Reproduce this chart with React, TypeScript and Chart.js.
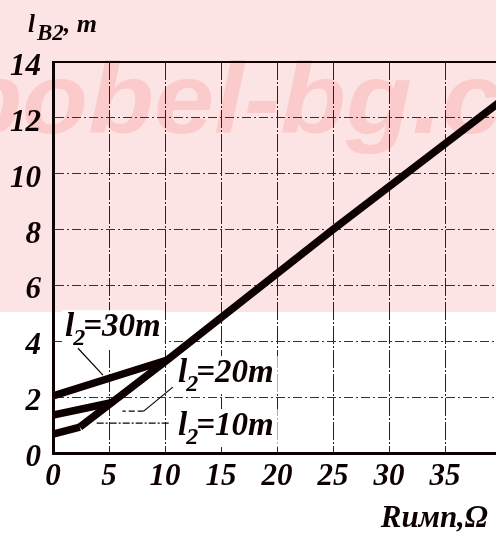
import React, { useEffect, useRef } from "react";
import { Chart, registerables } from "chart.js";
Chart.register(...registerables);

// ---- data ----
const xTickValues = [0, 5, 10, 15, 20, 25, 30, 35, 40];
const yTickValues = [0, 2, 4, 6, 8, 10, 12, 14];

const mainX = [2.4, 10.2, 25, 40];
const mainY = [0.93, 3.33, 8.0, 12.6];
const l10X = [0, 2.4];
const l10Y = [0.68, 0.93];
const l20X = [0, 5.2];
const l20Y = [1.36, 1.8];
const l30X = [0, 10.2];
const l30Y = [2.04, 3.33];

const leader30X = [2.23, 4.46];
const leader30Y = [3.75, 2.79];
const leader20X = [10.7, 8.1, 6.2];
const leader20Y = [2.36, 1.5, 1.5];
const leader10X = [3.9, 10.4];
const leader10Y = [1.07, 1.07];

const curveLabelNames = ["30m", "20m", "10m"];
const curveLabelX = [1.07, 11.16, 11.16];
const curveLabelY = [4.18, 2.54, 0.64];

const yTitleMain = "l";
const yTitleSub = "B2";
const yTitleTail = ", m";
const xTitle = "Rимп,Ω";
const watermark = "bobel-bg.com";

const pts = (xs: number[], ys: number[]) => xs.map((x, i) => ({ x, y: ys[i] }));

const SERIF = "'Liberation Serif', 'DejaVu Serif', serif";
const INK = "#0c0000";

export default function App() {
  const ref = useRef<HTMLCanvasElement | null>(null);

  useEffect(() => {
    if (!ref.current) return;

    const decor = {
      id: "decor",
      beforeDraw(chart: any) {
        const { ctx, width } = chart;
        ctx.save();
        ctx.fillStyle = "#ffffff";
        ctx.fillRect(0, 0, width, chart.height);
        ctx.fillStyle = "#fde4e4";
        ctx.fillRect(0, 0, width, 312);
        ctx.fillStyle = "#fbcaca";
        ctx.font = "italic bold 100px 'Liberation Sans', Arial, sans-serif";
        ctx.textBaseline = "alphabetic";
        ctx.textAlign = "left";
        ctx.translate(-44, 133);
        ctx.scale(1.08, 1);
        ctx.fillText(watermark, 0, 0);
        ctx.restore();
      },
      beforeDatasetsDraw(chart: any) {
        const { ctx, chartArea, scales } = chart;
        const xs = scales.x;
        const ys = scales.y;
        ctx.save();
        // top frame line
        ctx.strokeStyle = INK;
        ctx.lineWidth = 2;
        ctx.beginPath();
        ctx.moveTo(chartArea.left, chartArea.top);
        ctx.lineTo(chartArea.right, chartArea.top);
        ctx.stroke();
        // curve labels
        curveLabelNames.forEach((name, i) => {
          const px = xs.getPixelForValue(curveLabelX[i]);
          const py = ys.getPixelForValue(curveLabelY[i]);
          ctx.font = `italic bold 33px ${SERIF}`;
          const wl = ctx.measureText("l").width;
          ctx.font = `italic bold 24px ${SERIF}`;
          const ws = ctx.measureText("2").width;
          ctx.font = `italic bold 33px ${SERIF}`;
          const wt = ctx.measureText("=" + name).width;
          ctx.fillStyle = "#ffffff";
          ctx.fillRect(px - 3, py - 26, wl + ws + wt + 4, 38);
          ctx.fillStyle = INK;
          ctx.textBaseline = "alphabetic";
          ctx.textAlign = "left";
          ctx.font = `italic bold 33px ${SERIF}`;
          ctx.fillText("l", px, py);
          ctx.font = `italic bold 24px ${SERIF}`;
          ctx.fillText("2", px + wl - 1, py + 9);
          ctx.font = `italic bold 33px ${SERIF}`;
          ctx.fillText("=" + name, px + wl + ws - 3, py);
        });
        ctx.restore();
      },
      afterDraw(chart: any) {
        const { ctx, chartArea } = chart;
        ctx.save();
        ctx.fillStyle = INK;
        ctx.textBaseline = "alphabetic";
        ctx.textAlign = "left";
        const tx = chartArea.left - 25;
        const ty = chartArea.top - 30;
        ctx.font = `italic bold 25px ${SERIF}`;
        ctx.fillText(yTitleMain, tx, ty);
        const w1 = ctx.measureText(yTitleMain).width;
        ctx.font = `italic bold 23px ${SERIF}`;
        ctx.fillText(yTitleSub, tx + w1 + 2, ty + 8);
        const w2 = ctx.measureText(yTitleSub).width;
        ctx.font = `italic bold 26px ${SERIF}`;
        ctx.fillText(yTitleTail, tx + w1 + w2 + 2, ty);
        ctx.font = `italic bold 31px ${SERIF}`;
        ctx.textAlign = "right";
        ctx.fillText(xTitle, chartArea.right - 13, chartArea.bottom + 74);
        ctx.restore();
      },
    };

    const thick = {
      showLine: true,
      borderColor: INK,
      backgroundColor: INK,
      borderWidth: 7.5,
      pointRadius: 0,
      borderJoinStyle: "round" as const,
      borderCapStyle: "butt" as const,
      tension: 0,
    };
    const thin = {
      showLine: true,
      borderColor: INK,
      borderWidth: 1.2,
      pointRadius: 0,
      tension: 0,
    };

    const tickFont = { family: SERIF, size: 31, style: "italic", weight: "bold" };

    const chart = new Chart(ref.current, {
      type: "scatter",
      data: {
        datasets: [
          { ...thin, data: pts(leader30X, leader30Y) },
          {
            ...thin,
            data: pts(leader20X, leader20Y),
            segment: { borderDash: (c: any) => (c.p0DataIndex === 1 ? [6, 3] : undefined) },
          },
          { ...thin, borderDash: [7, 2, 2, 2], data: pts(leader10X, leader10Y) },
          { ...thick, data: pts(mainX, mainY) },
          { ...thick, data: pts(l10X, l10Y) },
          { ...thick, data: pts(l20X, l20Y) },
          { ...thick, data: pts(l30X, l30Y) },
        ],
      },
      options: {
        animation: false,
        responsive: true,
        maintainAspectRatio: false,
        layout: { padding: { top: 62, right: 9, left: 0, bottom: 0 } },
        plugins: { legend: { display: false }, tooltip: { enabled: false } },
        scales: {
          x: {
            type: "linear",
            min: 0,
            max: 40,
            afterFit: (s: any) => {
              s.height = 82;
            },
            afterBuildTicks: (s: any) => {
              s.ticks = xTickValues.map((v) => ({ value: v }));
            },
            ticks: {
              padding: 5,
              color: INK,
              font: tickFont,
              callback: (v: any) => (Number(v) === 40 ? "" : String(v)),
              maxRotation: 0,
              autoSkip: false,
            },
            grid: { color: "#2a2020", lineWidth: 1, drawTicks: false },
            border: { display: true, color: INK, width: 3, dash: [18, 2, 2, 2] },
          },
          y: {
            type: "linear",
            min: 0,
            max: 14,
            afterFit: (s: any) => {
              s.width = 53;
            },
            afterBuildTicks: (s: any) => {
              s.ticks = yTickValues.map((v) => ({ value: v }));
            },
            ticks: {
              padding: 12,
              labelOffset: 5,
              color: INK,
              font: tickFont,
              autoSkip: false,
            },
            grid: { color: "#3a3030", lineWidth: 1, drawTicks: false },
            border: { display: true, color: INK, width: 3, dash: [9, 3, 2, 3] },
          },
        },
      } as any,
      plugins: [decor],
    });
    return () => chart.destroy();
  }, []);

  return (
    <div
      style={{
        position: "fixed",
        left: 0,
        top: 0,
        width: 496,
        height: 535,
        overflow: "hidden",
        background: "#ffffff",
      }}
    >
      <div style={{ position: "relative", width: 510, height: 535 }}>
        <canvas ref={ref} />
      </div>
    </div>
  );
}
